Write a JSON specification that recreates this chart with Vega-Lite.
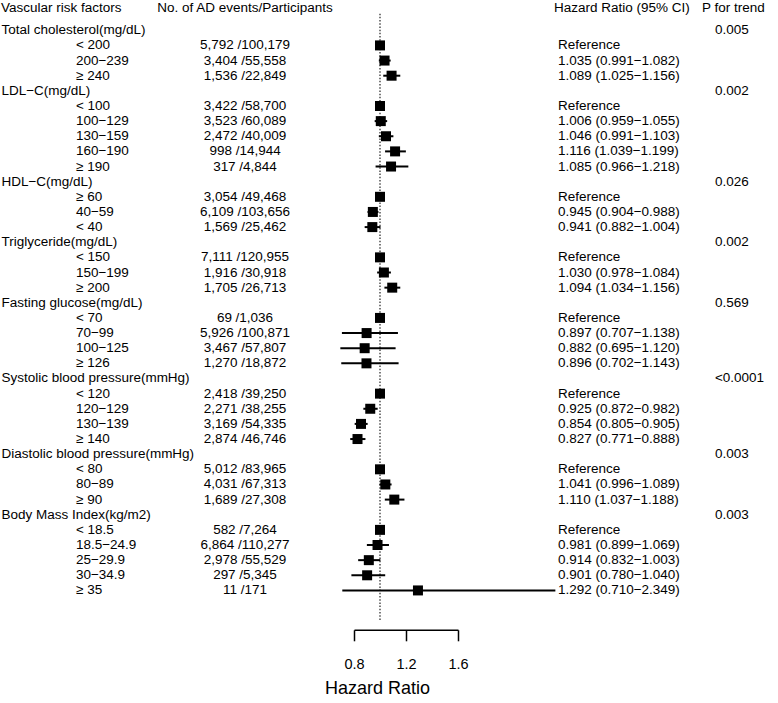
{
  "$schema": "https://vega.github.io/schema/vega-lite/v6.json",
  "padding": 0,
  "background": "white",
  "bounds": "flush",
  "spacing": 0,
  "config": {
    "view": {"stroke": null},
    "font": "Liberation Sans",
    "text": {"font": "Liberation Sans", "fontSize": 13.5, "color": "black", "baseline": "middle"}
  },
  "datasets": {
    "rows": [
      {"row": 0, "level": "header", "label": "Total cholesterol(mg/dL)", "p": "0.005"},
      {"row": 1, "level": "sub", "label": "< 200", "counts": "5,792 /100,179", "hr": 1, "hrText": "Reference"},
      {"row": 2, "level": "sub", "label": "200−239", "counts": "3,404 /55,558", "hr": 1.035, "lo": 0.991, "hi": 1.082, "hrText": "1.035 (0.991−1.082)"},
      {"row": 3, "level": "sub", "label": "≥ 240", "counts": "1,536 /22,849", "hr": 1.089, "lo": 1.025, "hi": 1.156, "hrText": "1.089 (1.025−1.156)"},
      {"row": 4, "level": "header", "label": "LDL−C(mg/dL)", "p": "0.002"},
      {"row": 5, "level": "sub", "label": "< 100", "counts": "3,422 /58,700", "hr": 1, "hrText": "Reference"},
      {"row": 6, "level": "sub", "label": "100−129", "counts": "3,523 /60,089", "hr": 1.006, "lo": 0.959, "hi": 1.055, "hrText": "1.006 (0.959−1.055)"},
      {"row": 7, "level": "sub", "label": "130−159", "counts": "2,472 /40,009", "hr": 1.046, "lo": 0.991, "hi": 1.103, "hrText": "1.046 (0.991−1.103)"},
      {"row": 8, "level": "sub", "label": "160−190", "counts": "998 /14,944", "hr": 1.116, "lo": 1.039, "hi": 1.199, "hrText": "1.116 (1.039−1.199)"},
      {"row": 9, "level": "sub", "label": "≥ 190", "counts": "317 /4,844", "hr": 1.085, "lo": 0.966, "hi": 1.218, "hrText": "1.085 (0.966−1.218)"},
      {"row": 10, "level": "header", "label": "HDL−C(mg/dL)", "p": "0.026"},
      {"row": 11, "level": "sub", "label": "≥ 60", "counts": "3,054 /49,468", "hr": 1, "hrText": "Reference"},
      {"row": 12, "level": "sub", "label": "40−59", "counts": "6,109 /103,656", "hr": 0.945, "lo": 0.904, "hi": 0.988, "hrText": "0.945 (0.904−0.988)"},
      {"row": 13, "level": "sub", "label": "< 40", "counts": "1,569 /25,462", "hr": 0.941, "lo": 0.882, "hi": 1.004, "hrText": "0.941 (0.882−1.004)"},
      {"row": 14, "level": "header", "label": "Triglyceride(mg/dL)", "p": "0.002"},
      {"row": 15, "level": "sub", "label": "< 150", "counts": "7,111 /120,955", "hr": 1, "hrText": "Reference"},
      {"row": 16, "level": "sub", "label": "150−199", "counts": "1,916 /30,918", "hr": 1.030, "lo": 0.978, "hi": 1.084, "hrText": "1.030 (0.978−1.084)"},
      {"row": 17, "level": "sub", "label": "≥ 200", "counts": "1,705 /26,713", "hr": 1.094, "lo": 1.034, "hi": 1.156, "hrText": "1.094 (1.034−1.156)"},
      {"row": 18, "level": "header", "label": "Fasting glucose(mg/dL)", "p": "0.569"},
      {"row": 19, "level": "sub", "label": "< 70", "counts": "69 /1,036", "hr": 1, "hrText": "Reference"},
      {"row": 20, "level": "sub", "label": "70−99", "counts": "5,926 /100,871", "hr": 0.897, "lo": 0.707, "hi": 1.138, "hrText": "0.897 (0.707−1.138)"},
      {"row": 21, "level": "sub", "label": "100−125", "counts": "3,467 /57,807", "hr": 0.882, "lo": 0.695, "hi": 1.120, "hrText": "0.882 (0.695−1.120)"},
      {"row": 22, "level": "sub", "label": "≥ 126", "counts": "1,270 /18,872", "hr": 0.896, "lo": 0.702, "hi": 1.143, "hrText": "0.896 (0.702−1.143)"},
      {"row": 23, "level": "header", "label": "Systolic blood pressure(mmHg)", "p": "<0.0001"},
      {"row": 24, "level": "sub", "label": "< 120", "counts": "2,418 /39,250", "hr": 1, "hrText": "Reference"},
      {"row": 25, "level": "sub", "label": "120−129", "counts": "2,271 /38,255", "hr": 0.925, "lo": 0.872, "hi": 0.982, "hrText": "0.925 (0.872−0.982)"},
      {"row": 26, "level": "sub", "label": "130−139", "counts": "3,169 /54,335", "hr": 0.854, "lo": 0.805, "hi": 0.905, "hrText": "0.854 (0.805−0.905)"},
      {"row": 27, "level": "sub", "label": "≥ 140", "counts": "2,874 /46,746", "hr": 0.827, "lo": 0.771, "hi": 0.888, "hrText": "0.827 (0.771−0.888)"},
      {"row": 28, "level": "header", "label": "Diastolic blood pressure(mmHg)", "p": "0.003"},
      {"row": 29, "level": "sub", "label": "< 80", "counts": "5,012 /83,965", "hr": 1, "hrText": "Reference"},
      {"row": 30, "level": "sub", "label": "80−89", "counts": "4,031 /67,313", "hr": 1.041, "lo": 0.996, "hi": 1.089, "hrText": "1.041 (0.996−1.089)"},
      {"row": 31, "level": "sub", "label": "≥ 90", "counts": "1,689 /27,308", "hr": 1.110, "lo": 1.037, "hi": 1.188, "hrText": "1.110 (1.037−1.188)"},
      {"row": 32, "level": "header", "label": "Body Mass Index(kg/m2)", "p": "0.003"},
      {"row": 33, "level": "sub", "label": "< 18.5", "counts": "582 /7,264", "hr": 1, "hrText": "Reference"},
      {"row": 34, "level": "sub", "label": "18.5−24.9", "counts": "6,864 /110,277", "hr": 0.981, "lo": 0.899, "hi": 1.069, "hrText": "0.981 (0.899−1.069)"},
      {"row": 35, "level": "sub", "label": "25−29.9", "counts": "2,978 /55,529", "hr": 0.914, "lo": 0.832, "hi": 1.003, "hrText": "0.914 (0.832−1.003)"},
      {"row": 36, "level": "sub", "label": "30−34.9", "counts": "297 /5,345", "hr": 0.901, "lo": 0.780, "hi": 1.040, "hrText": "0.901 (0.780−1.040)"},
      {"row": 37, "level": "sub", "label": "≥ 35", "counts": "11 /171", "hr": 1.292, "lo": 0.710, "hi": 2.349, "hrText": "1.292 (0.710−2.349)"}
    ]
  },
  "hconcat": [
    {
      "width": 136,
      "height": 629.8,
      "layer": [
        {
          "data": {"name": "rows"},
          "transform": [{"filter": "datum.level === 'header'"}],
          "mark": {"type": "text", "align": "left", "dx": 1.5},
          "encoding": {
            "x": {"value": 0},
            "y": {"field": "row", "type": "quantitative", "scale": {"domain": [-2, 39.6], "reverse": true, "nice": false, "zero": false}, "axis": null},
            "text": {"field": "label", "type": "nominal"}
          }
        },
        {
          "data": {"name": "rows"},
          "transform": [{"filter": "datum.level === 'sub'"}],
          "mark": {"type": "text", "align": "left", "dx": 76},
          "encoding": {
            "x": {"value": 0},
            "y": {"field": "row", "type": "quantitative"},
            "text": {"field": "label", "type": "nominal"}
          }
        },
        {
          "data": {"values": [{"h": "Vascular risk factors", "row": -1.5}]},
          "mark": {"type": "text", "align": "left", "dx": 1},
          "encoding": {
            "x": {"value": 0},
            "y": {"field": "row", "type": "quantitative"},
            "text": {"field": "h", "type": "nominal"}
          }
        }
      ]
    },
    {
      "width": 218,
      "height": 629.8,
      "layer": [
        {
          "data": {"name": "rows"},
          "transform": [{"filter": "datum.level === 'sub'"}],
          "mark": {"type": "text", "align": "center"},
          "encoding": {
            "y": {"field": "row", "type": "quantitative", "scale": {"domain": [-2, 39.6], "reverse": true, "nice": false, "zero": false}, "axis": null},
            "text": {"field": "counts", "type": "nominal"}
          }
        },
        {
          "data": {"values": [{"h": "No. of AD events/Participants", "row": -1.5}]},
          "mark": {"type": "text", "align": "center"},
          "encoding": {
            "y": {"field": "row", "type": "quantitative"},
            "text": {"field": "h", "type": "nominal"}
          }
        }
      ]
    },
    {
      "width": 104,
      "height": 629.8,
      "layer": [
        {
          "data": {"values": [{"ref": 1, "top": -1.1, "bottom": 39}]},
          "mark": {"type": "rule", "color": "#333333", "strokeWidth": 1.3, "strokeDash": [1.5, 1.7]},
          "encoding": {
            "x": {"field": "ref", "type": "quantitative", "scale": {"domain": [0.8, 1.6], "nice": false, "zero": false}},
            "y": {"field": "top", "type": "quantitative", "scale": {"domain": [-2, 39.6], "reverse": true, "nice": false, "zero": false}, "axis": null},
            "y2": {"field": "bottom"}
          }
        },
        {
          "data": {"name": "rows"},
          "transform": [{"filter": "isValid(datum.lo)"}],
          "mark": {"type": "rule", "color": "black", "strokeWidth": 2},
          "encoding": {
            "x": {"field": "lo", "type": "quantitative"},
            "x2": {"field": "hi"},
            "y": {"field": "row", "type": "quantitative"}
          }
        },
        {
          "data": {"name": "rows"},
          "transform": [{"filter": "isValid(datum.hr)"}],
          "mark": {"type": "point", "shape": "square", "filled": true, "size": 100, "color": "black", "opacity": 1, "strokeWidth": 0},
          "encoding": {
            "x": {
              "field": "hr",
              "type": "quantitative",
              "axis": {
                "values": [0.8, 1.2, 1.6],
                "format": ".1f",
                "grid": false,
                "labelFlush": false,
                "labelOverlap": false,
                "domainColor": "black",
                "domainWidth": 1.5,
                "tickColor": "black",
                "tickWidth": 1.5,
                "tickSize": 11,
                "labelPadding": 17,
                "labelFontSize": 14.5,
                "labelColor": "black",
                "labelFont": "Liberation Sans",
                "title": "Hazard Ratio",
                "titleFont": "Liberation Sans",
                "titleFontSize": 18,
                "titleFontWeight": "normal",
                "titleColor": "black",
                "titlePadding": 8,
                "titleX": 23,
                "titleAlign": "center"
              }
            },
            "y": {"field": "row", "type": "quantitative"}
          }
        }
      ]
    },
    {
      "width": 100,
      "height": 629.8,
      "data": {"values": []},
      "mark": "text",
      "encoding": {}
    },
    {
      "width": 157,
      "height": 629.8,
      "layer": [
        {
          "data": {"name": "rows"},
          "transform": [{"filter": "datum.level === 'sub'"}],
          "mark": {"type": "text", "align": "left"},
          "encoding": {
            "x": {"value": 0},
            "y": {"field": "row", "type": "quantitative", "scale": {"domain": [-2, 39.6], "reverse": true, "nice": false, "zero": false}, "axis": null},
            "text": {"field": "hrText", "type": "nominal"}
          }
        },
        {
          "data": {"values": [{"h": "Hazard Ratio (95% CI)", "row": -1.5}]},
          "mark": {"type": "text", "align": "left", "dx": -4},
          "encoding": {
            "x": {"value": 0},
            "y": {"field": "row", "type": "quantitative"},
            "text": {"field": "h", "type": "nominal"}
          }
        }
      ]
    },
    {
      "width": 63,
      "height": 629.8,
      "layer": [
        {
          "data": {"name": "rows"},
          "transform": [{"filter": "datum.level === 'header'"}],
          "mark": {"type": "text", "align": "left"},
          "encoding": {
            "x": {"value": 0},
            "y": {"field": "row", "type": "quantitative", "scale": {"domain": [-2, 39.6], "reverse": true, "nice": false, "zero": false}, "axis": null},
            "text": {"field": "p", "type": "nominal"}
          }
        },
        {
          "data": {"values": [{"h": "P for trend", "row": -1.5}]},
          "mark": {"type": "text", "align": "left", "dx": -13},
          "encoding": {
            "x": {"value": 0},
            "y": {"field": "row", "type": "quantitative"},
            "text": {"field": "h", "type": "nominal"}
          }
        }
      ]
    }
  ]
}
